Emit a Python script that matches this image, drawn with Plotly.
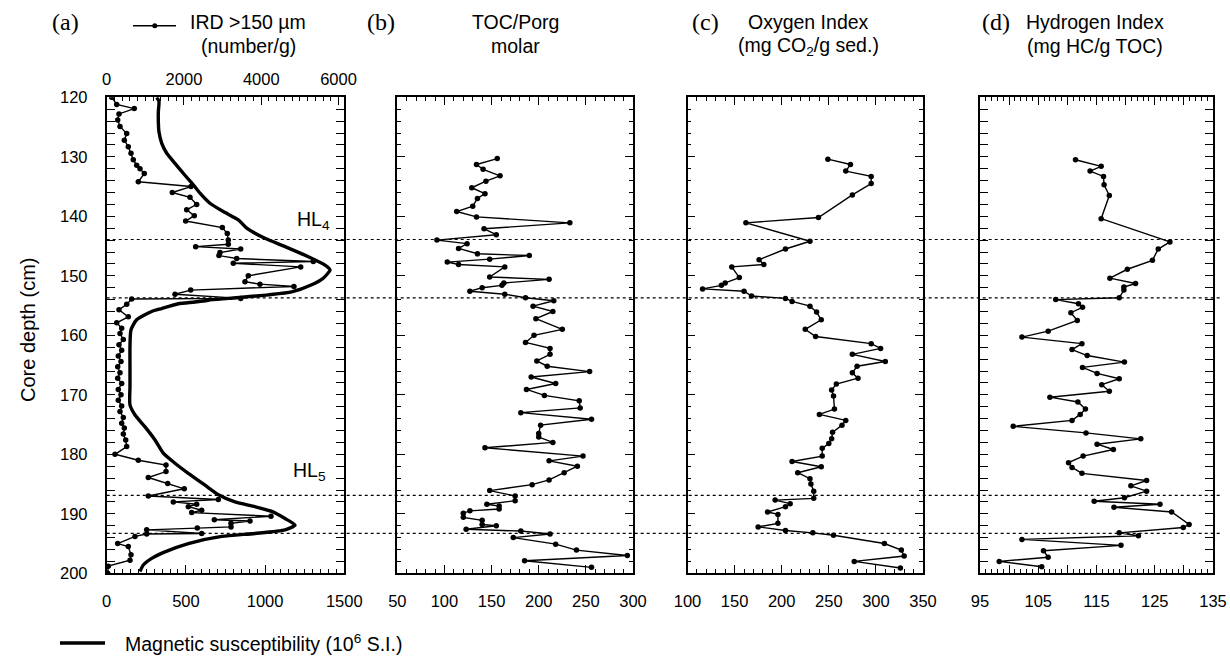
import plotly.graph_objects as go

# ---------------- data ----------------
ird_depth = [120.0, 121.2, 121.9, 122.8, 123.8, 124.9, 126.1, 127.2, 128.3, 129.4, 130.5, 131.4, 132.0, 132.8,
             134.2, 135.0, 136.0, 136.8, 138.0, 138.9, 139.9, 140.8, 141.9, 142.9, 144.0, 144.7, 145.1, 145.5,
             146.1, 146.6, 147.1, 147.6, 147.9, 148.5, 150.0, 151.0, 151.4, 151.8, 152.4, 153.1, 153.8, 153.9,
             154.8, 155.7, 156.9, 157.9, 158.8, 159.7, 160.7, 161.6, 162.5, 163.5, 164.4, 165.3, 166.3, 167.2,
             168.1, 169.1, 170.0, 170.9, 171.9, 172.8, 173.8, 174.8, 175.6, 176.6, 177.6, 178.7, 180.0, 181.0,
             181.8, 182.9, 183.9, 184.9, 185.8, 187.0, 187.6, 188.0, 188.4, 188.8, 189.4, 189.8, 190.4, 191.0,
             191.2, 191.6, 192.2, 192.4, 192.7, 193.3, 193.4, 193.8, 195.0, 195.5, 196.9, 197.8, 198.8, 200.0]
ird_value = [129, 259, 714, 318, 285, 344, 518, 456, 559, 629, 688, 776, 862, 973,
             818, 2182, 1698, 2156, 2329, 2070, 2267, 2044, 2992, 3121, 3147, 3147, 2303, 3468,
             2932, 2906, 3364, 5347, 3277, 5021, 3665, 3579, 3967, 4847, 2174, 1768, 3468, 647,
             518, 318, 559, 259, 388, 344, 430, 318, 388, 300, 370, 285, 344, 285,
             388, 300, 370, 300, 388, 344, 430, 388, 456, 430, 492, 518, 215, 818,
             1535, 1535, 1077, 1579, 2008, 1077, 2888, 1724, 2329, 2112, 2459, 2200, 4252, 2785,
             3709, 3217, 3217, 2345, 1035, 2459, 1035, 732, 285, 559, 629, 603, 41, 26]

ms_depth = [120.0, 120.7, 122.4, 124.1, 125.8, 127.7, 129.4, 131.1, 133.1, 134.7, 136.1, 137.8, 139.2, 140.6,
            142.0, 143.7, 145.1, 146.8, 148.2, 149.0, 150.4, 151.5, 152.7, 153.2, 153.8, 154.1, 154.4, 154.7,
            155.5, 156.0, 157.4, 159.1, 161.9, 165.3, 168.6, 171.7, 173.4, 175.4, 177.6, 179.8, 181.5, 183.2,
            185.2, 186.8, 188.0, 188.8, 189.6, 190.8, 191.9, 192.7, 193.3, 193.8, 195.0, 196.4, 197.5, 198.6, 199.7]
ms_value = [316, 330, 326, 326, 330, 347, 379, 431, 494, 547, 589, 652, 736, 831,
            884, 999, 1126, 1273, 1378, 1410, 1367, 1294, 1168, 1020, 768, 641, 557, 452,
            347, 284, 189, 153, 147, 147, 147, 147, 179, 242, 305, 357, 431, 515,
            621, 705, 810, 936, 1042, 1126, 1189, 1126, 936, 726, 515, 368, 284, 231, 210]

toc_depth = [130.3, 131.3, 132.1, 133.2, 134.1, 135.2, 136.2, 137.0, 138.3, 139.2, 140.1, 141.1, 142.1, 143.1,
             144.0, 144.6, 145.4, 146.3, 146.6, 147.2, 147.7, 148.1, 148.5, 150.2, 150.6, 151.2, 151.6, 152.0,
             152.6, 153.1, 153.7, 154.2, 155.1, 156.0, 157.2, 159.0, 160.0, 161.2, 162.2, 163.2, 164.3, 165.2,
             166.1, 167.0, 168.1, 169.1, 170.1, 171.0, 172.2, 173.0, 174.1, 175.1, 176.5, 177.1, 178.0, 178.9,
             180.3, 181.1, 182.0, 183.1, 184.3, 185.1, 186.1, 187.0, 187.8, 188.4, 188.7, 189.2, 189.5, 189.9,
             190.6, 191.1, 191.8, 192.0, 192.6, 192.9, 193.4, 194.0, 195.1, 196.1, 197.0, 197.9, 199.0]
toc_value = [156, 134, 141, 159, 144, 129, 143, 135, 130, 113, 134, 233, 142, 155,
             92, 124, 115, 135, 190, 148, 103, 115, 164, 148, 211, 163, 161, 140,
             127, 164, 186, 216, 194, 215, 197, 225, 195, 186, 212, 212, 198, 209,
             254, 192, 218, 187, 206, 243, 244, 181, 256, 202, 200, 200, 215, 143,
             247, 211, 241, 227, 211, 193, 148, 175, 175, 145, 158, 158, 127, 120,
             120, 140, 140, 155, 123, 181, 212, 173, 218, 240, 294, 185, 256]

oi_depth = [130.4, 131.3, 132.4, 133.3, 134.5, 136.4, 140.2, 141.1, 144.2, 145.5, 147.3, 148.1, 148.5, 150.3,
            151.2, 151.6, 152.2, 152.6, 153.4, 153.8, 154.3, 155.1, 156.1, 157.4, 159.0, 160.2, 161.4, 162.2,
            163.2, 164.4, 165.2, 166.3, 167.2, 168.2, 169.2, 170.2, 172.4, 173.3, 174.3, 175.1, 176.3, 177.4,
            178.2, 179.0, 180.3, 181.2, 182.1, 183.1, 184.1, 185.0, 186.2, 187.4, 187.7, 188.3, 188.8, 189.7,
            190.1, 191.6, 192.2, 192.8, 193.2, 193.6, 195.0, 196.1, 197.1, 198.0, 199.1]
oi_value = [249, 273, 268, 295, 295, 275, 239, 162, 230, 204, 176, 181, 147, 155,
            140, 136, 116, 160, 168, 204, 211, 230, 237, 242, 225, 236, 295, 305,
            275, 310, 280, 275, 281, 258, 253, 255, 256, 240, 268, 264, 254, 253,
            250, 243, 243, 211, 242, 217, 230, 231, 234, 234, 193, 209, 204, 185,
            196, 196, 175, 204, 233, 255, 309, 327, 330, 277, 326]

hi_depth = [130.5, 131.6, 132.4, 133.3, 134.7, 136.5, 140.4, 144.3, 145.5, 147.4, 148.9, 150.4, 151.3, 151.9,
            152.4, 153.7, 154.0, 154.7, 155.3, 156.2, 157.5, 159.3, 160.3, 161.4, 162.4, 163.4, 164.5, 165.4,
            166.4, 167.3, 168.3, 169.4, 170.4, 171.2, 172.4, 173.3, 174.3, 175.3, 176.4, 177.4, 178.3, 179.2,
            180.3, 181.4, 182.2, 183.2, 184.4, 185.3, 186.2, 187.3, 187.9, 188.4, 188.9, 189.7, 191.8, 192.3,
            193.2, 193.7, 194.3, 195.3, 196.2, 197.3, 198.0, 198.9]
hi_value = [111.4, 115.8, 113.9, 116.2, 116.3, 117.2, 115.8, 127.6, 125.6, 124.6, 120.3, 117.3, 121.7, 119.7,
            119.7, 118.9, 108.0, 111.9, 112.6, 110.6, 111.7, 106.7, 102.2, 112.5, 110.8, 113.4, 119.8, 112.6,
            115.1, 118.9, 115.9, 117.2, 107.0, 111.8, 113.1, 112.2, 110.8, 100.7, 113.2, 122.6, 115.1, 117.9,
            112.7, 110.2, 110.8, 112.5, 123.6, 120.9, 123.6, 119.8, 114.6, 125.9, 118.0, 127.9, 130.9, 129.9,
            118.9, 122.2, 102.2, 119.2, 105.9, 106.7, 98.3, 105.6]

hl_bounds = [143.9, 153.7, 186.9, 193.3]

a_bottom_ticks = [0, 500, 1000, 1500]
a_top_ticks = [0, 2000, 4000, 6000]
b_ticks = [50, 100, 150, 200, 250, 300]
c_ticks = [100, 150, 200, 250, 300, 350]
d_ticks = [95, 105, 115, 125, 135]
d_mid_ticks = [100, 110, 120, 130]
depth_ticks = [120, 130, 140, 150, 160, 170, 180, 190, 200]

# ---------------- layout helpers ----------------
W, H = 1230, 657
def px(x):
    return x / W
def py(y):
    return 1 - y / H

SANS = "Liberation Sans, Arial, sans-serif"
SERIF = "Liberation Serif, Times New Roman, serif"
FONT_TICK = dict(family=SANS, size=16.5, color="black")

y_dom = [py(573.3), py(97.3)]
doms = {
    "a": [px(106.7), px(344.3)],
    "b": [px(397.3), px(633.0)],
    "c": [px(687.5), px(923.0)],
    "d": [px(980.0), px(1213.0)],
}

fig = go.Figure()

line_kw = dict(color="black", width=1.4)
mk_kw = dict(color="black", size=5.5, symbol="circle")

fig.add_trace(go.Scatter(x=ms_value, y=ms_depth, mode="lines", xaxis="x", yaxis="y",
                         line=dict(color="black", width=3.4, shape="spline", smoothing=0.6),
                         showlegend=False))
fig.add_trace(go.Scatter(x=ird_value, y=ird_depth, mode="lines+markers", xaxis="x5", yaxis="y",
                         line=line_kw, marker=mk_kw, showlegend=False))
fig.add_trace(go.Scatter(x=toc_value, y=toc_depth, mode="lines+markers", xaxis="x2", yaxis="y2",
                         line=line_kw, marker=mk_kw, showlegend=False))
fig.add_trace(go.Scatter(x=oi_value, y=oi_depth, mode="lines+markers", xaxis="x3", yaxis="y3",
                         line=line_kw, marker=mk_kw, showlegend=False))
fig.add_trace(go.Scatter(x=hi_value, y=hi_depth, mode="lines+markers", xaxis="x4", yaxis="y4",
                         line=line_kw, marker=mk_kw, showlegend=False))

def xax(domain, rng, tickvals, minor_dtick=10, mirror="allticks", anchor="y"):
    return dict(domain=domain, range=rng, tickvals=tickvals, ticks="inside", ticklen=8, tickwidth=1.3,
                tickcolor="black", showline=True, linecolor="black", linewidth=1.8, mirror=mirror,
                showgrid=False, zeroline=False, tickfont=FONT_TICK, anchor=anchor, automargin=False,
                ticklabelstandoff=12,
                minor=dict(ticks="inside", dtick=minor_dtick, ticklen=4, tickwidth=1.1,
                           tickcolor="black", showgrid=False))

def tick_only(over, side, rng, tickvals):
    # extra unlabeled intermediate major ticks
    return dict(overlaying=over, side=side, anchor="y4", range=rng, tickvals=tickvals,
                ticks="inside", ticklen=8, tickwidth=1.3, tickcolor="black", showticklabels=False,
                showline=False, showgrid=False, zeroline=False, automargin=False)

def yax(domain, labels, anchor):
    return dict(domain=domain, range=[200, 120], tickvals=depth_ticks, ticks="inside", ticklen=8,
                tickwidth=1.3, tickcolor="black", showline=True, linecolor="black", linewidth=1.8,
                mirror="allticks", showgrid=False, zeroline=False, showticklabels=labels,
                tickfont=FONT_TICK, anchor=anchor, ticklabelstandoff=14, automargin=False,
                minor=dict(ticks="inside", dtick=2, ticklen=4, tickwidth=1.1, tickcolor="black",
                           showgrid=False))

fig.update_layout(
    width=W, height=H, margin=dict(l=0, r=0, t=0, b=0, pad=0, autoexpand=False),
    paper_bgcolor="white", plot_bgcolor="white", showlegend=False,
    xaxis=xax(doms["a"], [0, 1500], a_bottom_ticks, minor_dtick=50, mirror=True, anchor="y"),
    xaxis5=dict(overlaying="x", side="top", anchor="y", range=[0, 6150], tickvals=a_top_ticks,
                ticks="inside", ticklen=8, tickwidth=1.3, tickcolor="black",
                showline=False, showgrid=False, zeroline=False, tickfont=FONT_TICK,
                ticklabelstandoff=8, automargin=False,
                minor=dict(ticks="inside", dtick=200, ticklen=4, tickwidth=1.1, tickcolor="black",
                           showgrid=False)),
    xaxis2=xax(doms["b"], [50, 300], b_ticks, minor_dtick=10, anchor="y2"),
    xaxis3=xax(doms["c"], [100, 350], c_ticks, minor_dtick=10, anchor="y3"),
    xaxis4=xax(doms["d"], [95, 135], d_ticks, minor_dtick=1, anchor="y4"),
    xaxis6=tick_only("x4", "bottom", [95, 135], d_mid_ticks),
    xaxis7=tick_only("x4", "top", [95, 135], d_mid_ticks),
    yaxis=yax(y_dom, True, "x"),
    yaxis2=yax(y_dom, False, "x2"),
    yaxis3=yax(y_dom, False, "x3"),
    yaxis4=yax(y_dom, False, "x4"),
)

# invisible carriers so the tick-only axes are drawn
fig.add_trace(go.Scatter(x=[95, 135], y=[120, 120], mode="markers", xaxis="x6", yaxis="y4",
                         marker=dict(opacity=0), hoverinfo="skip", showlegend=False))
fig.add_trace(go.Scatter(x=[95, 135], y=[120, 120], mode="markers", xaxis="x7", yaxis="y4",
                         marker=dict(opacity=0), hoverinfo="skip", showlegend=False))

# dotted Heinrich-layer boundaries across all panels
for dpt in hl_bounds:
    fig.add_shape(type="line", xref="paper", yref="y", x0=px(106.7), x1=px(1222), y0=dpt, y1=dpt,
                  line=dict(color="black", width=1.2, dash="dot"), layer="above")

# legend sample for IRD (top)
fig.add_shape(type="line", xref="paper", yref="paper", x0=px(133), x1=px(176), y0=py(25.7), y1=py(25.7),
              line=dict(color="black", width=1.4))
fig.add_shape(type="circle", xref="paper", yref="paper", x0=px(152.3), x1=px(157.3),
              y0=py(28.2), y1=py(23.2), fillcolor="black", line=dict(color="black", width=0))
# legend sample for magnetic susceptibility (bottom)
fig.add_shape(type="line", xref="paper", yref="paper", x0=px(60), x1=px(105), y0=py(643), y1=py(643),
              line=dict(color="black", width=3.6))

def ann(text, x, y, size=19.5, family=SANS, xanchor="center", yanchor="middle", angle=0):
    fig.add_annotation(text=text, xref="paper", yref="paper", x=px(x), y=py(y), showarrow=False,
                       xanchor=xanchor, yanchor=yanchor, textangle=angle,
                       font=dict(family=family, size=size, color="black"))

# panel letters
ann("(a)", 65, 22, size=24, family=SERIF)
ann("(b)", 381, 22, size=24, family=SERIF)
ann("(c)", 705, 22, size=24, family=SERIF)
ann("(d)", 996, 22, size=24, family=SERIF)

# panel titles
ann("IRD >150 µm", 248, 22)
ann("(number/g)", 248, 46)
ann("TOC/Porg", 515, 22)
ann("molar", 515, 46)
ann("Oxygen Index", 808, 22)
ann("(mg CO<sub>2</sub>/g sed.)", 808, 47)
ann("Hydrogen Index", 1095, 22)
ann("(mg HC/g TOC)", 1095, 46)

# HL labels
ann("HL<sub>4</sub>", 313, 220, size=19.5)
ann("HL<sub>5</sub>", 309, 471, size=19.5)

# y-axis title
ann("Core depth (cm)", 28, 330, size=20, angle=-90)

# bottom legend text
ann("Magnetic susceptibility (10<sup>6</sup> S.I.)", 123, 643, size=19.5, xanchor="left")

fig.write_html("out.html")
